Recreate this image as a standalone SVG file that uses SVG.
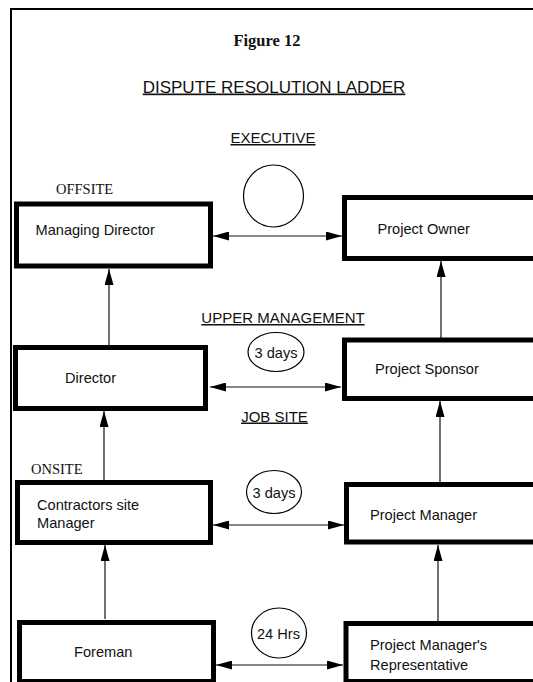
<svg xmlns="http://www.w3.org/2000/svg" width="533" height="682" viewBox="0 0 533 682">
  <style>
    .box { fill: #ffffff; stroke: #000000; stroke-width: 5; }
    .lbl { font-family: "Liberation Sans", Arial, sans-serif; font-size: 14.6px; fill: #111111; }
    .head { font-family: "Liberation Sans", Arial, sans-serif; font-size: 15px; fill: #111111; text-decoration: underline; }
    .serif { font-family: "Liberation Serif", "Times New Roman", serif; font-size: 14.5px; fill: #111111; }
    .bubble { fill: #ffffff; stroke: #000000; stroke-width: 1.2; }
    .link { fill: none; stroke: #111111; stroke-width: 1.2; }
    .dual { marker-start: url(#head); marker-end: url(#head); }
    .up { marker-end: url(#head); }
  </style>
  <defs>
    <marker id="head" viewBox="0 0 16 9" refX="16" refY="4.5" markerWidth="16" markerHeight="9" markerUnits="userSpaceOnUse" orient="auto-start-reverse">
      <path d="M0,0 L16,4.5 L0,9 z" fill="#000000"/>
    </marker>
  </defs>

  <rect width="533" height="682" fill="#ffffff"/>

  <!-- page frame (top and left rules) -->
  <path d="M11,682 V9 H533" fill="none" stroke="#000000" stroke-width="2"/>

  <!-- titles and level headings -->
  <text x="267" y="46" text-anchor="middle" font-family="Liberation Serif, Times New Roman, serif" font-size="16.5" font-weight="bold" fill="#111111">Figure 12</text>
  <text x="274" y="92.5" text-anchor="middle" font-family="Liberation Sans, Arial, sans-serif" font-size="17" fill="#111111" text-decoration="underline">DISPUTE RESOLUTION LADDER</text>
  <text class="head" x="273" y="143" text-anchor="middle">EXECUTIVE</text>
  <text class="head" x="283" y="323" text-anchor="middle">UPPER MANAGEMENT</text>
  <text class="head" x="274.5" y="421.5" text-anchor="middle">JOB SITE</text>
  <text class="serif" x="56" y="194">OFFSITE</text>
  <text class="serif" x="31" y="474">ONSITE</text>

  <!-- connectors -->
  <g id="connectors">
    <line class="link dual" x1="213" y1="236" x2="342" y2="236"/>
    <line class="link dual" x1="210" y1="387" x2="341" y2="387"/>
    <line class="link dual" x1="213" y1="525" x2="344" y2="525"/>
    <line class="link dual" x1="216" y1="665" x2="343" y2="665"/>
    <line class="link up" x1="109" y1="345" x2="109" y2="269"/>
    <line class="link up" x1="441" y1="338" x2="441" y2="261"/>
    <line class="link up" x1="104" y1="480" x2="104" y2="411"/>
    <line class="link up" x1="440" y1="482" x2="440" y2="401"/>
    <line class="link up" x1="105" y1="619" x2="105" y2="545"/>
    <line class="link up" x1="438" y1="621" x2="438" y2="545"/>
  </g>

  <!-- time-limit bubbles -->
  <g id="bubble-executive">
    <ellipse class="bubble" cx="273.5" cy="196" rx="30" ry="31"/>
  </g>
  <g id="bubble-upper">
    <ellipse class="bubble" cx="276" cy="352" rx="28" ry="19.5"/>
    <text class="lbl" x="276" y="357.5" text-anchor="middle">3 days</text>
  </g>
  <g id="bubble-jobsite">
    <ellipse class="bubble" cx="274" cy="492" rx="27.5" ry="21.5"/>
    <text class="lbl" x="274" y="497.5" text-anchor="middle">3 days</text>
  </g>
  <g id="bubble-field">
    <ellipse class="bubble" cx="279" cy="633" rx="27.5" ry="25"/>
    <text class="lbl" x="278.5" y="638.5" text-anchor="middle" font-size="12.5">24 Hrs</text>
  </g>

  <!-- contractor side -->
  <g id="managing-director">
    <rect class="box" x="16.5" y="204" width="194" height="62"/>
    <text class="lbl" x="35.5" y="235">Managing Director</text>
  </g>
  <g id="director">
    <rect class="box" x="15.5" y="347.5" width="190" height="61"/>
    <text class="lbl" x="65" y="383">Director</text>
  </g>
  <g id="contractors-site-manager">
    <rect class="box" x="17.5" y="482.5" width="193" height="60"/>
    <text class="lbl" x="37" y="510">Contractors site</text>
    <text class="lbl" x="37" y="527.5">Manager</text>
  </g>
  <g id="foreman">
    <rect class="box" x="19.5" y="622.5" width="194" height="59"/>
    <text class="lbl" x="74" y="657">Foreman</text>
  </g>

  <!-- owner side -->
  <g id="project-owner">
    <rect class="box" x="344.5" y="197.5" width="220" height="61"/>
    <text class="lbl" x="377.5" y="234">Project Owner</text>
  </g>
  <g id="project-sponsor">
    <rect class="box" x="344.5" y="340" width="220" height="58.5"/>
    <text class="lbl" x="375" y="374">Project Sponsor</text>
  </g>
  <g id="project-manager">
    <rect class="box" x="346.5" y="484.5" width="220" height="57.5"/>
    <text class="lbl" x="370" y="520">Project Manager</text>
  </g>
  <g id="pm-representative">
    <rect class="box" x="346" y="623.5" width="220" height="58"/>
    <text class="lbl" x="370" y="650">Project Manager's</text>
    <text class="lbl" x="370" y="670">Representative</text>
  </g>
</svg>
